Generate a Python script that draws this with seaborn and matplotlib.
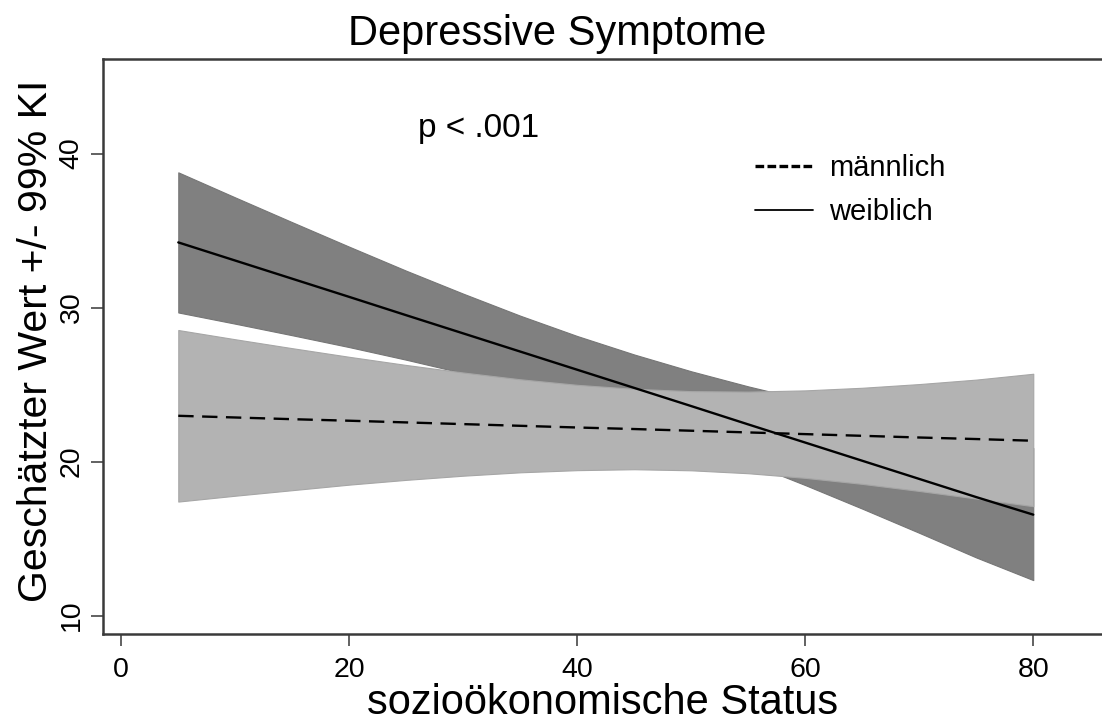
import matplotlib
matplotlib.use("Agg")
import matplotlib.pyplot as plt
from matplotlib.lines import Line2D
import seaborn as sns
import pandas as pd

# ---- data ----
ses = [5, 10, 15, 20, 25, 30, 35, 40, 45, 50, 55, 60, 65, 70, 75, 80]

fem_mid = [34.23, 33.05, 31.87, 30.69, 29.50, 28.32, 27.14, 25.96,
           24.78, 23.60, 22.41, 21.23, 20.05, 18.87, 17.69, 16.55]
fem_hi = [38.78, 37.15, 35.54, 33.95, 32.39, 30.90, 29.47, 28.15,
          26.95, 25.86, 24.88, 23.99, 23.16, 22.37, 21.61, 20.88]
fem_lo = [29.68, 28.95, 28.20, 27.43, 26.61, 25.74, 24.81, 23.77,
          22.61, 21.34, 19.94, 18.47, 16.94, 15.37, 13.77, 12.30]

male_mid = [22.97, 22.86, 22.75, 22.65, 22.54, 22.43, 22.32, 22.21,
            22.11, 22.00, 21.89, 21.78, 21.67, 21.56, 21.46, 21.35]
male_hi = [28.54, 27.94, 27.36, 26.80, 26.27, 25.78, 25.34, 24.98,
           24.72, 24.57, 24.54, 24.62, 24.79, 25.03, 25.32, 25.70]
male_lo = [17.40, 17.78, 18.14, 18.50, 18.81, 19.08, 19.30, 19.44,
           19.50, 19.43, 19.24, 18.94, 18.55, 18.09, 17.60, 17.10]

groups = ["männlich", "weiblich"]
x_ticks = [0, 20, 40, 60, 80]
y_ticks = [10, 20, 30, 40]

title = "Depressive Symptome"
x_label = "sozioökonomische Status"
y_label = "Geschätzter Wert +/- 99% KI"
annot = "p < .001"

# ---- style ----
sns.set_theme(style="white")
plt.rcParams["font.family"] = ["Liberation Sans", "DejaVu Sans"]
plt.rcParams["text.color"] = "black"
plt.rcParams["axes.labelcolor"] = "black"

W, H = 1102, 724
fig = plt.figure(figsize=(W / 100, H / 100), dpi=100)
ax = fig.add_axes([102.7 / W, 90 / H, (W - 102.7) / W, 575 / H])

df = pd.DataFrame({
    "ses": ses + ses,
    "wert": male_mid + fem_mid,
    "gruppe": [groups[0]] * len(ses) + [groups[1]] * len(ses),
})

# bands: female (dark) first, male (light) drawn on top
ax.fill_between(ses, fem_lo, fem_hi, color="#808080", edgecolor="#767676",
                linewidth=0.8, zorder=1)
ax.fill_between(ses, male_lo, male_hi, color="#b3b3b3", edgecolor="#a6a6a6",
                linewidth=0.8, zorder=2)

sns.lineplot(data=df, x="ses", y="wert", style="gruppe", ax=ax,
             color="black", linewidth=1.7, legend=False,
             dashes={groups[0]: (6.5, 3.6), groups[1]: ""}, zorder=3)

ax.set_xlim(-1.63, 86.03)
ax.set_ylim(8.80, 46.14)
ax.set_xticks(x_ticks)
ax.set_yticks(y_ticks)
ax.set_xticklabels([str(t) for t in x_ticks])
ax.set_yticklabels([str(t) for t in y_ticks], rotation=90, va="center")

for side in ["left", "bottom", "top"]:
    ax.spines[side].set_color("#3a3a3a")
    ax.spines[side].set_linewidth(1.8)
ax.spines["right"].set_visible(False)

ax.tick_params(axis="both", direction="out", length=8.5, width=1.3,
               color="#555555", labelsize=20.5, labelcolor="black",
               left=True, bottom=True)
ax.tick_params(axis="x", pad=8)
ax.tick_params(axis="y", pad=4.5)

ax.set_xlabel(x_label, fontsize=30, color="black", va="bottom")
ax.xaxis.set_label_coords(0.5, (634 - 723) / 575)
ax.set_ylabel(y_label, fontsize=29.5, color="black", va="center")
ax.yaxis.set_label_coords((36 - 102.7) / (W - 102.7), 0.5 - (341 - 346.5) / 575)

fig.text(557.5 / W, 1 - 45 / H, title, fontsize=30, ha="center",
         va="baseline", color="black")

ax.text(26.03, 41.09, annot, fontsize=24, ha="left", va="baseline",
        color="black")

handles = [
    Line2D([], [], color="black", linewidth=2.4, dashes=(2.6, 1.0)),
    Line2D([], [], color="black", linewidth=1.3),
]
leg = ax.legend(handles, groups, loc="upper left",
                bbox_to_anchor=(755 / W, 1 - 154 / H),
                bbox_transform=fig.transFigure,
                frameon=False, fontsize=21, handlelength=2.0,
                handletextpad=0.55, labelspacing=0.55, borderpad=0,
                borderaxespad=0)
for t in leg.get_texts():
    t.set_color("black")

fig.savefig("out.png", dpi=100)
